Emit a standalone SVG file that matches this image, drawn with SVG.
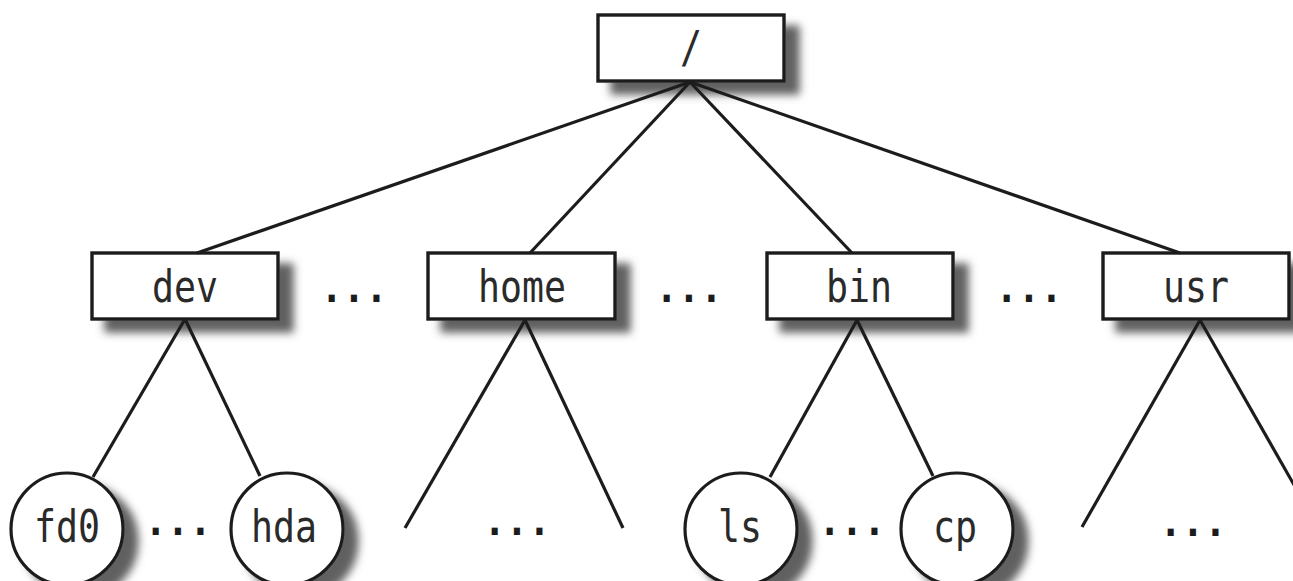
<svg xmlns="http://www.w3.org/2000/svg" width="1293" height="581" viewBox="0 0 1293 581">
<defs>
<filter id="sh" x="-20%" y="-30%" width="150%" height="180%">
<feDropShadow dx="14" dy="12" stdDeviation="4" flood-color="#606060" flood-opacity="1"/>
</filter>
<style>
.box{fill:#fff;stroke:#1c1c1c;stroke-width:3.4;filter:url(#sh)}
.leaf{fill:#fff;stroke:#1c1c1c;stroke-width:3.2;filter:url(#sh)}
.lbl{font-family:"DejaVu Sans Mono","Liberation Mono",monospace;font-size:44px;fill:#2a2a2a;text-anchor:middle}
.dots{font-family:"DejaVu Sans Mono","Liberation Mono",monospace;font-size:40px;fill:#1c1c1c;text-anchor:middle;font-weight:bold}
.ln{stroke:#1c1c1c;stroke-width:3.2;fill:none}
</style>
</defs>
<rect width="1293" height="581" fill="#fff"/>
<g id="root"><rect class="box" x="598" y="15" width="186" height="66"/><text class="lbl" x="691" y="63" textLength="22" lengthAdjust="spacingAndGlyphs">/</text></g>
<g id="dev"><rect class="box" x="92" y="253" width="186" height="66"/><text class="lbl" x="185" y="302" textLength="66" lengthAdjust="spacingAndGlyphs">dev</text></g>
<g id="home"><rect class="box" x="428" y="253" width="187" height="66"/><text class="lbl" x="522" y="302" textLength="88" lengthAdjust="spacingAndGlyphs">home</text></g>
<g id="bin"><rect class="box" x="767" y="253" width="186" height="66"/><text class="lbl" x="859" y="302" textLength="66" lengthAdjust="spacingAndGlyphs">bin</text></g>
<g id="usr"><rect class="box" x="1103" y="253" width="186" height="66"/><text class="lbl" x="1196" y="302" textLength="66" lengthAdjust="spacingAndGlyphs">usr</text></g>
<g id="fd0"><circle class="leaf" cx="67" cy="529" r="56"/><text class="lbl" x="67" y="542" textLength="66" lengthAdjust="spacingAndGlyphs">fd0</text></g>
<g id="hda"><circle class="leaf" cx="287" cy="529" r="56"/><text class="lbl" x="284" y="542" textLength="66" lengthAdjust="spacingAndGlyphs">hda</text></g>
<g id="ls"><circle class="leaf" cx="741" cy="529" r="56"/><text class="lbl" x="740" y="542" textLength="44" lengthAdjust="spacingAndGlyphs">ls</text></g>
<g id="cp"><circle class="leaf" cx="957" cy="529" r="56"/><text class="lbl" x="955" y="542" textLength="44" lengthAdjust="spacingAndGlyphs">cp</text></g>
<g id="ellipses">
<text class="dots" x="354" y="302" textLength="67" lengthAdjust="spacingAndGlyphs">...</text>
<text class="dots" x="689" y="302" textLength="67" lengthAdjust="spacingAndGlyphs">...</text>
<text class="dots" x="1029" y="302" textLength="67" lengthAdjust="spacingAndGlyphs">...</text>
<text class="dots" x="178" y="535" textLength="67" lengthAdjust="spacingAndGlyphs">...</text>
<text class="dots" x="517" y="535" textLength="67" lengthAdjust="spacingAndGlyphs">...</text>
<text class="dots" x="852" y="535" textLength="67" lengthAdjust="spacingAndGlyphs">...</text>
<text class="dots" x="1193" y="536" textLength="67" lengthAdjust="spacingAndGlyphs">...</text>
</g>
<g id="connectors">
<line class="ln" x1="690" y1="82" x2="197" y2="253"/>
<line class="ln" x1="690" y1="82" x2="530" y2="253"/>
<line class="ln" x1="690" y1="82" x2="852" y2="253"/>
<line class="ln" x1="690" y1="82" x2="1180" y2="253"/>
<line class="ln" x1="185" y1="319" x2="93" y2="477"/>
<line class="ln" x1="185" y1="319" x2="260" y2="476"/>
<line class="ln" x1="525" y1="320" x2="405" y2="528"/>
<line class="ln" x1="525" y1="320" x2="623" y2="528"/>
<line class="ln" x1="857" y1="320" x2="770" y2="477"/>
<line class="ln" x1="857" y1="320" x2="933" y2="476"/>
<line class="ln" x1="1200" y1="320" x2="1082" y2="527"/>
<line class="ln" x1="1200" y1="320" x2="1318" y2="527"/>
</g>
</svg>
